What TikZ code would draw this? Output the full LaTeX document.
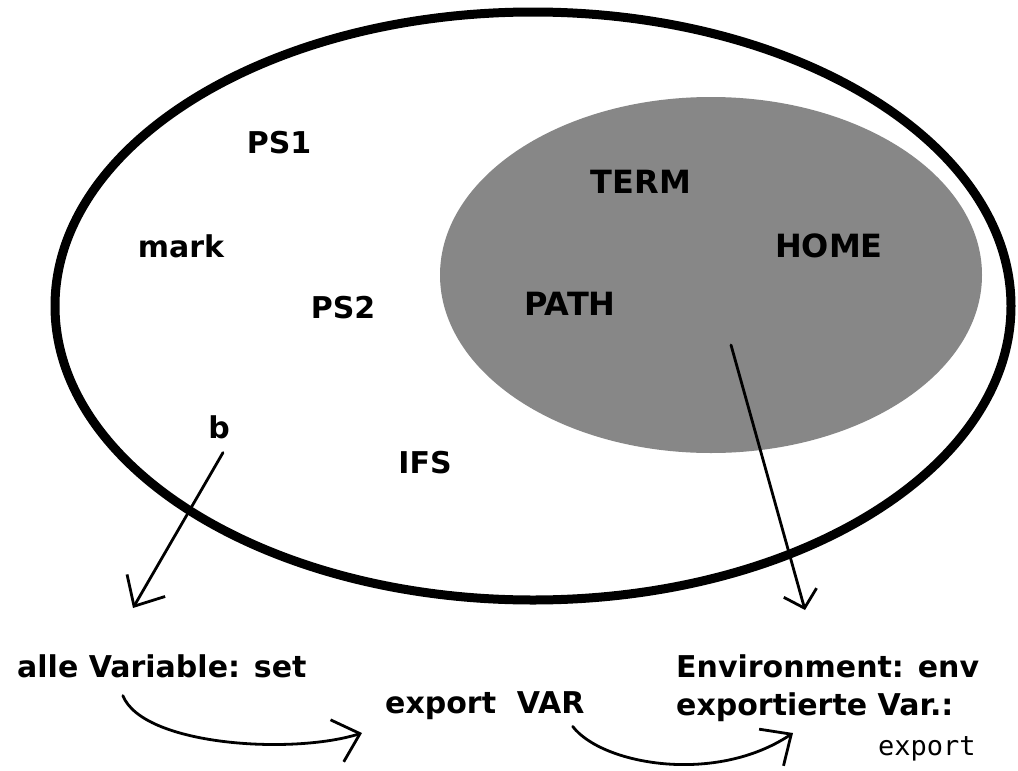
\documentclass[tikz,border=0pt]{standalone}
\usepackage{fontspec}
\setmainfont{DejaVu Sans}
\setmonofont{DejaVu Sans Mono}
\usetikzlibrary{arrows.meta}

\tikzset{
  lbl/.style={font=\fontsize{30}{36}\selectfont\bfseries, inner sep=0pt, anchor=base},
  envlbl/.style={lbl, font=\fontsize{32}{38}\selectfont\bfseries},
  txt/.style={lbl, anchor=base west},
  barb/.style={line width=2.8pt, line cap=round, -{Straight Barb[length=24pt,width=44pt]}},
}

\begin{document}
\begin{tikzpicture}[x=1pt,y=-1pt]
\useasboundingbox (0,0) rectangle (1018,771);
\fill[white] (0,0) rectangle (1018,771);

%% all shell variables, environment inside
\draw[line width=9pt] (533,306) ellipse [x radius=478, y radius=294];
\fill[black!47] (711,275) ellipse [x radius=271, y radius=178];

%% local ones
\node[lbl] (ps1) at (279,153) {PS1};
\node[lbl] (mark) at (181,257) {mark};
\node[lbl] (ps2) at (343,318) {PS2};
\node[lbl] (b) at (219,438) {b};
\node[lbl] (ifs) at (425,473) {IFS};

%% exported ones
\node[envlbl] (term) at (641,193) {TERM};
\node[envlbl] (home) at (829,257) {HOME};
\node[envlbl] (path) at (570,315) {PATH};

%% commands
\node[txt] (setvars) at (17,677) {alle Variable: set};
\node[txt] (exvar) at (385,713) {export\ \ VAR};
\node[txt] (env) at (676,677) {Environment: env};
\node[txt] (exvars) at (676,715) {exportierte Var.:};
\node[txt, font=\fontsize{27}{32}\selectfont\ttfamily] (excmd) at (878,755) {export};

\coordinate (btip) at (133,608);
\coordinate (gsrc) at (731,345);
\coordinate (gtip) at (805,610);
\coordinate (stip) at (362,733);
\coordinate (etip) at (793,733);

\draw[barb] ([xshift=4pt,yshift=-14pt]b.south) -- (btip);
\draw[barb, -{Straight Barb[length=16pt,width=34pt]}] (gsrc) -- (gtip);
\draw[barb] ([xshift=-39pt,yshift=-18pt]setvars.south) .. controls +(20,50) and +(-70,22) .. (stip);
\draw[barb] ([xshift=-12pt,yshift=-7pt]exvar.south east) .. controls +(29,38) and +(-78,52) .. (etip);

\end{tikzpicture}
\end{document}
